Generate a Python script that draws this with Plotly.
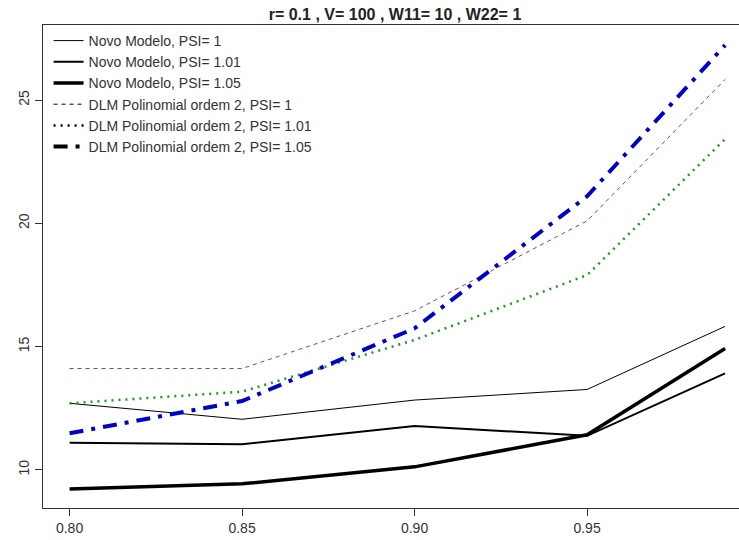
import plotly.graph_objects as go

# ---- data ----
x_vals = [0.80, 0.85, 0.90, 0.95, 0.99]
novo_psi_1 = [12.70, 12.05, 12.83, 13.26, 15.82]
novo_psi_101 = [11.10, 11.04, 11.78, 11.38, 13.91]
novo_psi_105 = [9.22, 9.43, 10.12, 11.42, 14.92]
dlm_psi_1 = [14.11, 14.11, 16.45, 20.10, 25.84]
dlm_psi_101 = [12.70, 13.17, 15.27, 17.90, 23.42]
dlm_psi_105 = [11.48, 12.79, 15.74, 21.10, 27.23]

series_names = [
    "Novo Modelo, PSI= 1",
    "Novo Modelo, PSI= 1.01",
    "Novo Modelo, PSI= 1.05",
    "DLM Polinomial ordem 2, PSI= 1",
    "DLM Polinomial ordem 2, PSI= 1.01",
    "DLM Polinomial ordem 2, PSI= 1.05",
]
series_values = [novo_psi_1, novo_psi_101, novo_psi_105, dlm_psi_1, dlm_psi_101, dlm_psi_105]
x_ticks = [0.80, 0.85, 0.90, 0.95]
x_tick_labels = ["0.80", "0.85", "0.90", "0.95"]
y_ticks = [10, 15, 20, 25]
title_text = "r= 0.1 , V= 100 , W11= 10 , W22= 1"

# ---- styles ----
colors = ["black", "black", "black", "#A83A3A", "#1E9A1E", "#0000CC"]
widths = [1, 2, 3.5, 1, 2.5, 4]
dashes = ["solid", "solid", "solid", "4px,4px", "2px,5px", "14px,8px,4px,8px"]

fig = go.Figure()
for name, vals, c, w, d in zip(series_names, series_values, colors, widths, dashes):
    fig.add_trace(go.Scatter(x=x_vals, y=vals, mode="lines", showlegend=False,
                             line=dict(color=c, width=w, dash=d), hoverinfo="skip"))
# legend entries (black keys, as in the reference)
for name, w, d in zip(series_names, widths, dashes):
    fig.add_trace(go.Scatter(x=[None], y=[None], mode="lines", name=name,
                             line=dict(color="black", width=w, dash=d)))

fig.update_layout(
    width=739, height=540,
    margin=dict(l=43, r=0, t=25, b=32),
    paper_bgcolor="white", plot_bgcolor="white",
    font=dict(family="Liberation Sans, Arial, sans-serif", color="black", size=13),
    title=dict(text="<b>" + title_text + "</b>", x=395 / 739, xanchor="center",
               y=1 - 14 / 540, yanchor="middle", yref="container",
               font=dict(size=16, color="#222222")),
    legend=dict(x=0.008, y=1.0, xanchor="left", yanchor="top",
                bgcolor="rgba(0,0,0,0)", borderwidth=0,
                font=dict(size=14, color="#333333"), tracegroupgap=0),
    xaxis=dict(range=[0.7923, 0.7923 + 696 / 3450], tickvals=x_ticks, ticktext=x_tick_labels,
               showgrid=False, zeroline=False, showline=True, linecolor="#333333", linewidth=1,
               mirror=True, ticks="outside", ticklen=7, tickcolor="#333333",
               tickfont=dict(size=14, color="#333333")),
    yaxis=dict(range=[8.45, 28.05], tickvals=y_ticks, showgrid=False, zeroline=False,
               showline=True, linecolor="#333333", linewidth=1, mirror=False,
               ticks="outside", ticklen=7, tickcolor="#333333", tickangle=-90,
               tickfont=dict(size=14, color="#333333")),
)

fig.write_html("out.html")
